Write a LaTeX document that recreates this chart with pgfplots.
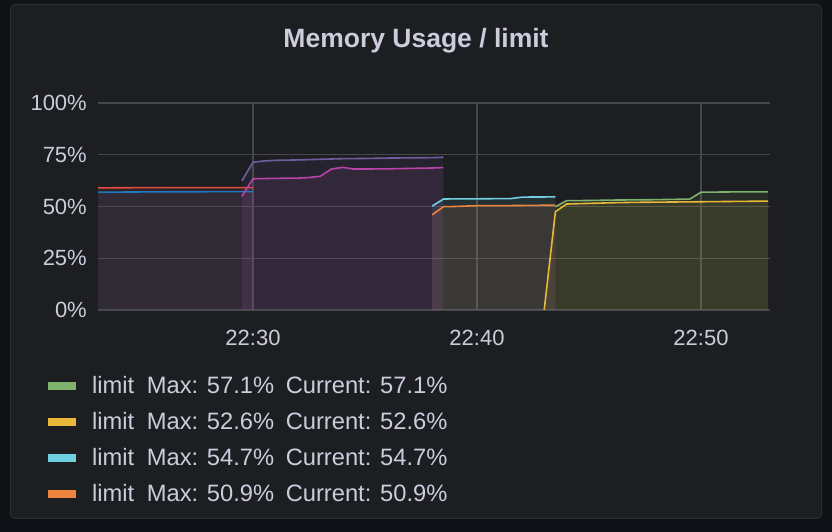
\documentclass[border=0pt]{standalone}
\usepackage{fontspec}
\setmainfont{Liberation Sans}
\usepackage{pgfplots}
\pgfplotsset{compat=1.18}

\definecolor{canvas}{HTML}{111217}
\definecolor{panel}{HTML}{1D1E22}
\definecolor{panelborder}{HTML}{2C2D32}
\definecolor{txt}{HTML}{CCCCDC}
\definecolor{gridc}{HTML}{46474C}
\definecolor{sgreen}{HTML}{7EB26D}
\definecolor{syellow}{HTML}{EAB839}
\definecolor{scyan}{HTML}{6ED0E0}
\definecolor{sorange}{HTML}{EF843C}
\definecolor{sred}{HTML}{E24D42}
\definecolor{sblue}{HTML}{1F78C1}
\definecolor{smagenta}{HTML}{BA43A9}
\definecolor{spurple}{HTML}{705DA0}

% minutes after 22:00 against memory usage in percent of the limit
\pgfplotstableread{
x y
43.5 49.9
44.0 52.8
45.0 52.9
46.0 53.1
47.0 53.2
48.0 53.3
49.0 53.5
49.5 53.6
50.0 56.9
51.0 57.0
52.0 57.1
53.0 57.1
}\green
\pgfplotstableread{
x y
43.0 0.0
43.5 47.5
44.0 51.2
45.0 51.5
46.0 51.8
47.0 52.0
48.0 52.1
49.0 52.2
50.0 52.3
51.0 52.4
52.0 52.5
53.0 52.6
}\yellow
\pgfplotstableread{
x y
38.0 50.2
38.5 53.6
39.0 53.7
40.0 53.7
41.0 53.8
41.5 53.8
42.0 54.5
42.5 54.6
43.0 54.6
43.5 54.7
}\cyan
\pgfplotstableread{
x y
38.0 46.0
38.5 49.9
39.0 50.0
39.5 50.2
40.0 50.4
41.0 50.4
42.0 50.5
43.0 50.6
43.5 50.6
}\orange
\pgfplotstableread{
x y
23.0 59.0
25.0 59.1
27.0 59.1
30.0 59.1
}\red
\pgfplotstableread{
x y
23.0 56.9
24.5 57.0
26.0 57.1
30.0 57.2
}\blue
\pgfplotstableread{
x y
29.5 54.9
30.0 63.4
30.5 63.5
31.0 63.6
32.0 63.7
32.5 64.0
33.0 64.6
33.5 68.1
34.0 68.9
34.5 68.1
35.0 68.1
36.0 68.2
37.0 68.4
38.0 68.6
38.5 68.8
}\magenta
\pgfplotstableread{
x y
29.5 62.3
30.0 71.4
30.5 72.0
31.0 72.3
32.0 72.5
33.0 72.8
34.0 73.1
35.0 73.2
36.0 73.4
37.0 73.5
38.0 73.6
38.5 73.8
}\purple

\begin{document}
\begin{tikzpicture}[x=1pt,y=1pt]
\path[use as bounding box] (0,0) rectangle (832,532);
\fill[canvas] (0,0) rectangle (832,532);
\draw[panelborder, fill=panel, rounded corners=5pt, line width=1pt] (10.5,13.5) rectangle (821.5,527.5);
\node[anchor=base, text=txt, inner sep=0pt, font=\fontsize{26.5}{32}\selectfont\bfseries] at (416,484.3) {Memory Usage / limit};

\begin{axis}[
  at={(98pt,222pt)}, anchor=south west,
  scale only axis, width=672pt, height=207pt,
  xmin=23.08, xmax=53.08, ymin=0, ymax=100,
  axis line style={draw=none},
  major tick length=0pt,
  grid=major,
  major grid style={gridc, line width=1.2pt},
  xtick={30,40,50}, xticklabels={22:30,22:40,22:50},
  ytick={0,25,50,75,100}, yticklabels={0\%,25\%,50\%,75\%,100\%},
  ticklabel style={text=txt, font=\fontsize{22}{26}\selectfont, inner sep=0pt},
  yticklabel style={anchor=east, xshift=-11pt},
  xticklabel style={anchor=north, yshift=-20pt},
  legend style={at={(-0.0804,-0.322)}, anchor=north west, draw=none, fill=none,
    text=txt, font=\fontsize{23.7}{28}\selectfont, inner sep=0pt,
    nodes={inner sep=0pt, text height=17pt, text depth=2pt},
    row sep=17pt, column sep=12pt},
  legend cell align=left,
  legend image code/.code={\draw[#1, line width=8pt] (0pt,0pt) -- (28pt,0pt);},
  every axis plot/.append style={line width=1.6pt, line join=round},
]
% fills, 10 percent opacity as in the panel
\addplot[forget plot, draw=none, fill=sgreen, fill opacity=0.1] table {\green} \closedcycle;
\addplot[forget plot, draw=none, fill=syellow, fill opacity=0.1] table {\yellow} \closedcycle;
\addplot[forget plot, draw=none, fill=scyan, fill opacity=0.1] table {\cyan} \closedcycle;
\addplot[forget plot, draw=none, fill=sorange, fill opacity=0.1] table {\orange} \closedcycle;
\addplot[forget plot, draw=none, fill=sred, fill opacity=0.1] table {\red} \closedcycle;
\addplot[forget plot, draw=none, fill=sblue, fill opacity=0.1] table {\blue} \closedcycle;
\addplot[forget plot, draw=none, fill=smagenta, fill opacity=0.1] table {\magenta} \closedcycle;
\addplot[forget plot, draw=none, fill=spurple, fill opacity=0.1] table {\purple} \closedcycle;
% lines
\addplot[sgreen] table {\green};
\addlegendentry{limit\hspace{6pt} Max: 57.1\%\hspace{5pt} Current: 57.1\%}
\addplot[syellow] table {\yellow};
\addlegendentry{limit\hspace{6pt} Max: 52.6\%\hspace{5pt} Current: 52.6\%}
\addplot[scyan] table {\cyan};
\addlegendentry{limit\hspace{6pt} Max: 54.7\%\hspace{5pt} Current: 54.7\%}
\addplot[sorange] table {\orange};
\addlegendentry{limit\hspace{6pt} Max: 50.9\%\hspace{5pt} Current: 50.9\%}
\addplot[forget plot, sred] table {\red};
\addplot[forget plot, sblue] table {\blue};
\addplot[forget plot, smagenta] table {\magenta};
\addplot[forget plot, spurple] table {\purple};
\end{axis}
\end{tikzpicture}
\end{document}
